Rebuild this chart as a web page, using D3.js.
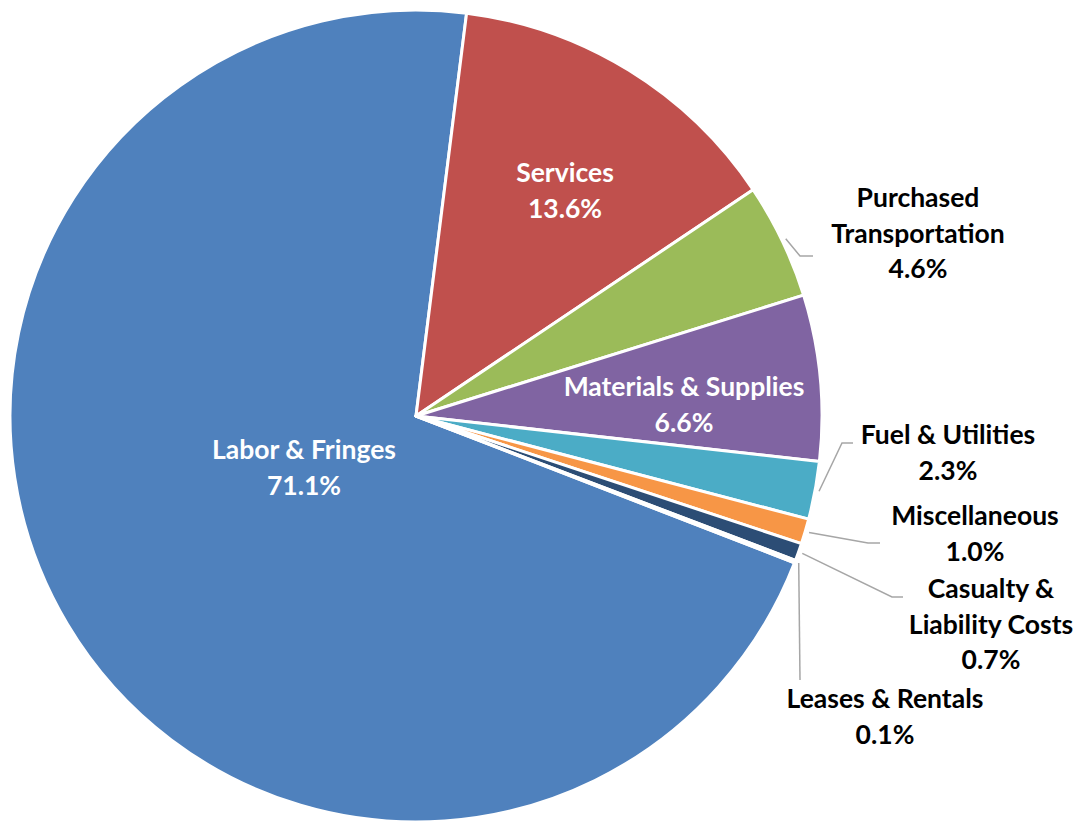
<!DOCTYPE html>
<html>
<head>
<meta charset="utf-8">
<script src="https://cdn.jsdelivr.net/npm/d3@7"></script>
<style>
  html, body { margin: 0; padding: 0; background: #fff; }
  svg { display: block; }
  text { font-family: Lato, "Open Sans", "Liberation Sans", sans-serif; font-weight: 700; }
</style>
</head>
<body>
<svg id="chart" width="1083" height="823"></svg>
<script>
// Operating expense breakdown (percent of total)
const categories = [
  "Labor & Fringes",
  "Services",
  "Purchased Transportation",
  "Materials & Supplies",
  "Fuel & Utilities",
  "Miscellaneous",
  "Casualty & Liability Costs",
  "Leases & Rentals"
];
const values = [71.1, 13.6, 4.6, 6.6, 2.3, 1.0, 0.7, 0.1];
const colors = ["#4F81BD", "#C0504D", "#9BBB59", "#8064A2", "#4BACC6", "#F79646", "#2C4D75", "#772C2A"];

// Label layout: text lines, anchor position, colour, optional leader path (elbow, end)
const labelLayout = {
  "Labor & Fringes":            { lines: ["Labor & Fringes"], x: 304, y: 459, fill: "#fff" },
  "Services":                   { lines: ["Services"], x: 565, y: 182, fill: "#fff" },
  "Purchased Transportation":   { lines: ["Purchased", "Transportation"], x: 918, y: 207, fill: "#000",
                                  elbow: [800, 256], end: [813, 256] },
  "Materials & Supplies":       { lines: ["Materials & Supplies"], x: 684, y: 396, fill: "#fff" },
  "Fuel & Utilities":           { lines: ["Fuel & Utilities"], x: 948, y: 444, fill: "#000",
                                  elbow: [842, 443], end: [853, 443] },
  "Miscellaneous":              { lines: ["Miscellaneous"], x: 975, y: 525, fill: "#000",
                                  elbow: [868, 543], end: [880, 543] },
  "Casualty & Liability Costs": { lines: ["Casualty &", "Liability Costs"], x: 991, y: 598, fill: "#000",
                                  elbow: [892, 597], end: [903, 597] },
  "Leases & Rentals":           { lines: ["Leases & Rentals"], x: 885, y: 708, fill: "#000",
                                  elbow: [800, 680], end: [800, 680] }
};

const width = 1083, height = 823;
const cx = 416, cy = 416, radius = 406;
const firstSliceAngle = 111.2 * Math.PI / 180;
const lineHeight = 35.5;

const svg = d3.select("#chart");
const g = svg.append("g").attr("transform", `translate(${cx},${cy})`);

const data = categories.map((c, i) => ({ name: c, value: values[i], color: colors[i] }));

const pie = d3.pie()
  .value(d => d.value)
  .sort(null)
  .startAngle(firstSliceAngle)
  .endAngle(firstSliceAngle + 2 * Math.PI);

const arcs = pie(data);
const arc = d3.arc().innerRadius(0).outerRadius(radius);

g.selectAll("path.slice")
  .data(arcs)
  .join("path")
  .attr("class", "slice")
  .attr("d", arc)
  .attr("fill", d => d.data.color)
  .attr("stroke", "#fff")
  .attr("stroke-width", 3)
  .attr("stroke-linejoin", "round");

// Leader lines from the slice rim to the outside labels
const leaderArc = d3.arc().innerRadius(radius + 4).outerRadius(radius + 4);
arcs.forEach(d => {
  const L = labelLayout[d.data.name];
  if (!L.elbow) return;
  const [sx, sy] = leaderArc.centroid(d);
  const pts = [[sx + cx, sy + cy], L.elbow, L.end];
  svg.append("polyline")
    .attr("points", pts.map(p => p.join(",")).join(" "))
    .attr("fill", "none")
    .attr("stroke", "#A6A6A6")
    .attr("stroke-width", 1.5);
});

// Category name and percentage labels
arcs.forEach(d => {
  const L = labelLayout[d.data.name];
  const lines = L.lines.concat([d.data.value.toFixed(1) + "%"]);
  const t = svg.append("text")
    .attr("text-anchor", "middle")
    .attr("fill", L.fill)
    .attr("font-size", 26.5);
  lines.forEach((s, i) => {
    t.append("tspan")
      .attr("x", L.x)
      .attr("y", L.y + i * lineHeight)
      .text(s);
  });
});
</script>
</body>
</html>
